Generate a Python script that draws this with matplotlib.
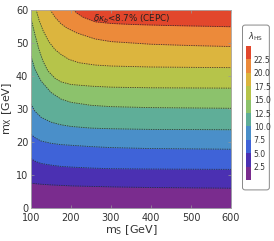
import numpy as np
import matplotlib
matplotlib.use("Agg")
import matplotlib.pyplot as plt
from matplotlib.patches import FancyBboxPatch

# --- data: contour levels of lambda_HS and their band colours ---
levels = [0, 2.5, 5.0, 7.5, 10.0, 12.5, 15.0, 17.5, 20.0, 22.5, 25.0]
band_colors = ['#7a2c8e', '#4b30b2', '#3f63d8', '#4a8fc9', '#5fae98',
               '#8cc26c', '#b6c44a', '#dcb53e', '#ec8a3a', '#e2472c']
cbar_ticks = [2.5, 5.0, 7.5, 10.0, 12.5, 15.0, 17.5, 20.0, 22.5]

# contour lines (m_S [GeV], m_X [GeV])
ms_2p5 = [100, 125, 150, 200, 300, 400, 600]
mx_2p5 = [7.5, 7.2, 7.0, 6.7, 6.4, 6.2, 6.0]
ms_5 = [100, 110, 125, 150, 175, 200, 250, 300, 400, 600]
mx_5 = [15.0, 14.2, 13.5, 13.0, 12.6, 12.4, 12.1, 11.9, 11.8, 11.7]
ms_7p5 = [100, 110, 125, 150, 175, 200, 250, 300, 400, 600]
mx_7p5 = [22.3, 21.3, 20.3, 19.6, 19.2, 19.0, 18.6, 18.3, 18.0, 17.8]
ms_10 = [100, 110, 125, 150, 175, 200, 250, 300, 400, 600]
mx_10 = [31.5, 29.3, 27.5, 26.0, 25.2, 24.7, 24.2, 24.0, 23.8, 23.7]
ms_12p5 = [100, 110, 125, 150, 175, 200, 250, 300, 400, 600]
mx_12p5 = [46.0, 42.0, 38.5, 35.0, 33.0, 32.0, 31.1, 30.7, 30.4, 30.2]
ms_15 = [100, 110, 120, 130, 142.5, 160, 175, 200, 250, 300, 400, 600]
mx_15 = [57.5, 52.5, 48.0, 44.5, 41.5, 39.3, 38.2, 37.4, 36.9, 36.6, 36.4, 36.3]
ms_17p5 = [113, 120, 130, 145, 160, 175, 195, 220, 260, 300, 400, 600]
mx_17p5 = [60.0, 57.0, 53.8, 50.3, 48.0, 46.5, 45.0, 44.0, 43.3, 43.0, 42.7, 42.5]
ms_20 = [148, 160, 175, 190, 215, 260, 300, 400, 500, 600]
mx_20 = [60.0, 57.8, 55.8, 54.5, 53.0, 51.2, 50.4, 49.6, 49.2, 48.9]
ms_22p5 = [206, 215, 230, 260, 300, 350, 435, 600]
mx_22p5 = [60.0, 59.0, 57.8, 56.4, 55.9, 55.6, 55.3, 54.9]

contours = [(2.5, ms_2p5, mx_2p5), (5.0, ms_5, mx_5), (7.5, ms_7p5, mx_7p5),
            (10.0, ms_10, mx_10), (12.5, ms_12p5, mx_12p5), (15.0, ms_15, mx_15),
            (17.5, ms_17p5, mx_17p5), (20.0, ms_20, mx_20), (22.5, ms_22p5, mx_22p5)]

x0, x1, y0, y1 = 100, 600, 0, 60
text_col = '#333333'

fig = plt.figure(figsize=(2.74, 2.41), dpi=100)
ax = fig.add_axes([0.113, 0.137, 0.730, 0.822])

# paint from the top band downwards
ax.axhspan(y0, y1, color=band_colors[-1], lw=0)
for lev, ms, mx in reversed(contours):
    i = levels.index(lev)
    x = np.asarray(ms, float)
    y = np.asarray(mx, float)
    if x[0] > x0:  # line leaves through the top edge
        x = np.r_[x0, x]
        y = np.r_[y1, y]
    ax.fill_between(x, y0, y, color=band_colors[i - 1], lw=0)
for lev, ms, mx in contours:
    ax.plot(ms, mx, color='#2a2a2a', lw=0.6, ls=(0, (1.6, 1.2)), alpha=0.85)

ax.text(352, 57.4, r'$\delta\kappa_b$<8.7% (CEPC)', fontsize=6.3, ha='center',
        va='center', color='#222222')

ax.set_xlim(x0, x1)
ax.set_ylim(y0, y1)
ax.set_xticks([100, 200, 300, 400, 500, 600])
ax.set_yticks([0, 10, 20, 30, 40, 50, 60])
ax.tick_params(direction='in', length=2, width=0.5, color='#999999',
               labelsize=7, labelcolor=text_col, pad=2, top=True, right=True)
ax.tick_params(axis='x', pad=3.5)
for sp in ax.spines.values():
    sp.set_color('#aaaaaa')
    sp.set_linewidth(0.6)
ax.set_xlabel(r'm$_\mathrm{S}$ [GeV]', fontsize=8, color=text_col, labelpad=0)
ax.set_ylabel(r'm$_\mathrm{X}$ [GeV]', fontsize=8, color=text_col, labelpad=1)

# legend box with colour bar
box = FancyBboxPatch((0.885, 0.212), 0.098, 0.684, transform=fig.transFigure,
                     boxstyle='round,pad=0,rounding_size=0.01',
                     fc='white', ec='#888888', lw=0.7, zorder=0.5)
fig.patches.append(box)
fig.text(0.934, 0.848, r'$\lambda_\mathrm{HS}$', fontsize=6, ha='center',
         va='center', color=text_col)
cax = fig.add_axes([0.898, 0.253, 0.018, 0.556])
cax.set_zorder(3)
cax.patch.set_alpha(0)
for i in range(len(levels) - 1):
    cax.axhspan(levels[i], levels[i + 1], color=band_colors[i], lw=0)
cax.set_xlim(0, 1)
cax.set_ylim(levels[0], levels[-1])
cax.set_xticks([])
cax.set_yticks(cbar_ticks)
cax.set_yticklabels([f'{t:.1f}' for t in cbar_ticks])
cax.yaxis.tick_right()
cax.tick_params(axis='y', length=0, labelsize=5.5, labelcolor=text_col, pad=2)
for sp in cax.spines.values():
    sp.set_visible(False)

fig.savefig('out.png', dpi=100)
